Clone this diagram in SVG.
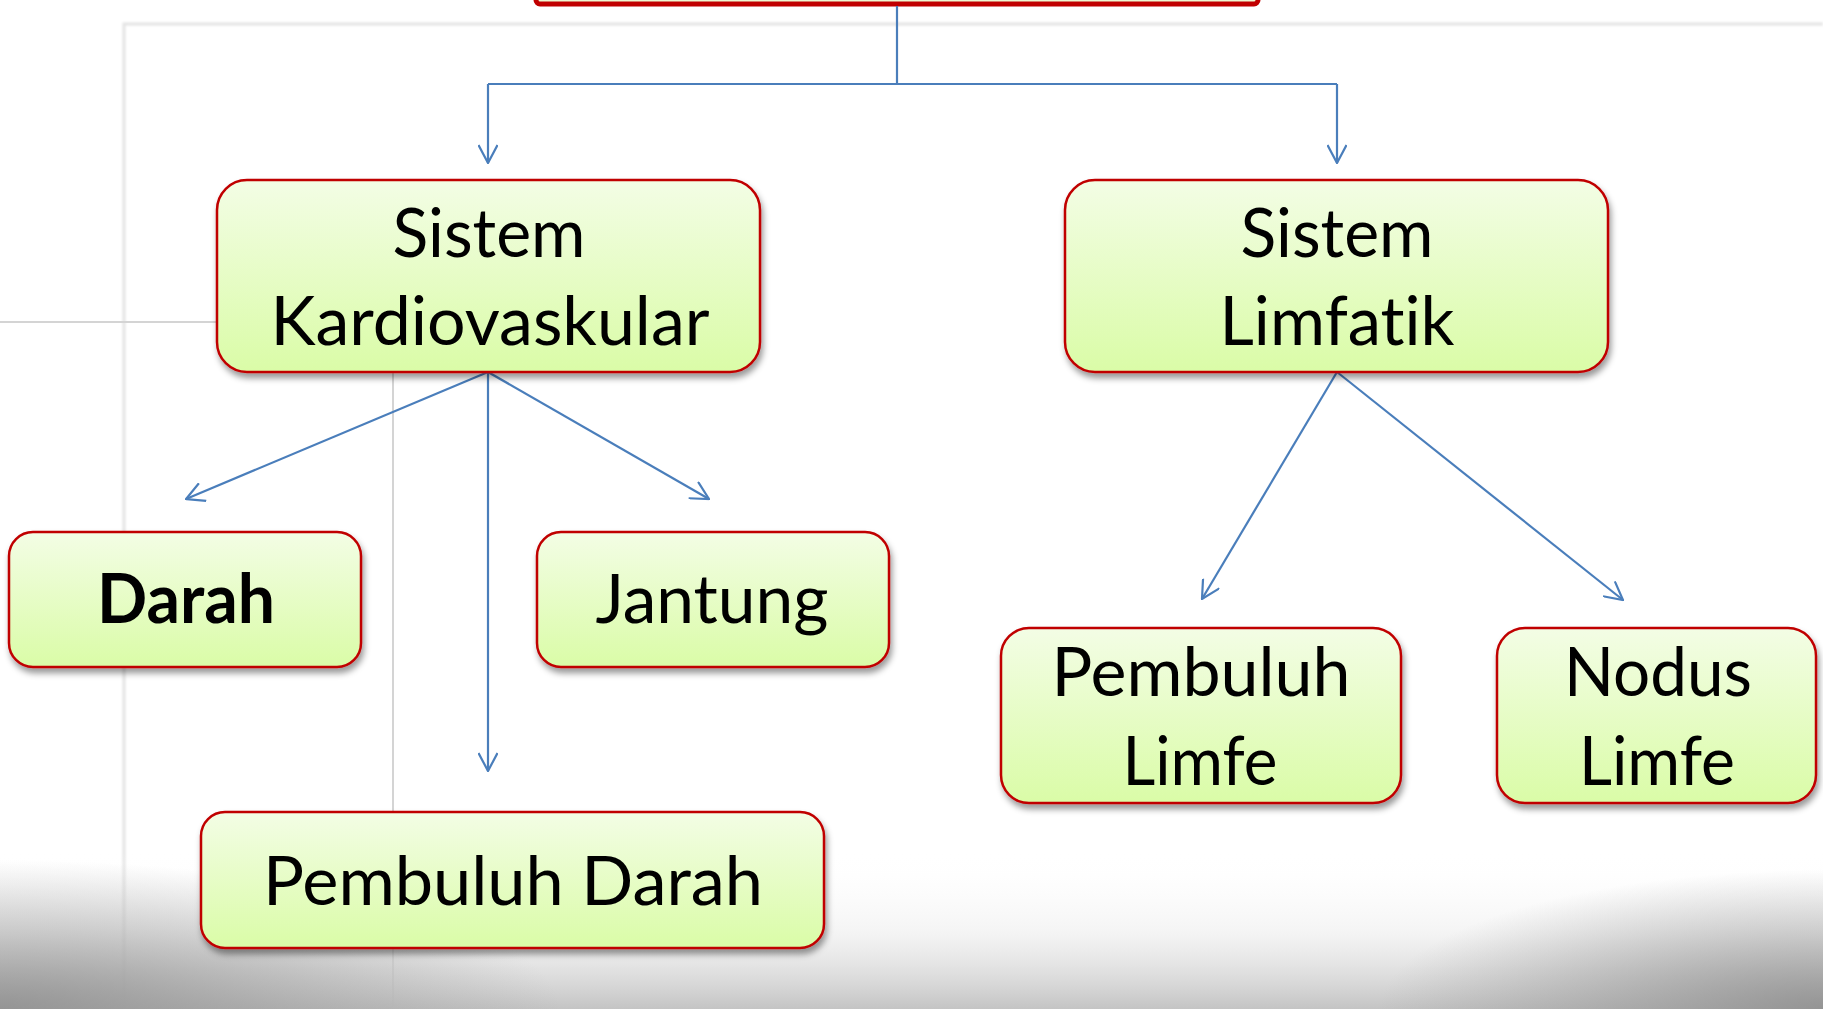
<svg xmlns="http://www.w3.org/2000/svg" width="1823" height="1009" viewBox="0 0 1823 1009">
<defs>
<linearGradient id="boxFill" x1="0" y1="0" x2="0" y2="1">
<stop offset="0" stop-color="#f3fde5"/>
<stop offset="1" stop-color="#dafca7"/>
</linearGradient>
<linearGradient id="bottomFade" x1="0" y1="0" x2="0" y2="1">
<stop offset="0" stop-color="#ffffff" stop-opacity="0"/>
<stop offset="0.5" stop-color="#ebebeb" stop-opacity="0.5"/>
<stop offset="1" stop-color="#c4c4c4" stop-opacity="1"/>
</linearGradient>
<radialGradient id="cornerL" cx="0" cy="1" r="1">
<stop offset="0" stop-color="#8c8c8c" stop-opacity="0.85"/>
<stop offset="1" stop-color="#8c8c8c" stop-opacity="0"/>
</radialGradient>
<radialGradient id="cornerR" cx="1" cy="1" r="1">
<stop offset="0" stop-color="#8c8c8c" stop-opacity="0.85"/>
<stop offset="1" stop-color="#8c8c8c" stop-opacity="0"/>
</radialGradient>
<filter id="shadow" x="-10%" y="-10%" width="120%" height="130%">
<feDropShadow dx="2" dy="5" stdDeviation="3" flood-color="#000" flood-opacity="0.4"/>
</filter>
<filter id="soft" x="-5%" y="-5%" width="110%" height="110%">
<feGaussianBlur stdDeviation="0.8"/>
</filter>
<marker id="arrow" viewBox="0 0 20 20" refX="19" refY="10" markerWidth="20" markerHeight="20" markerUnits="userSpaceOnUse" orient="auto">
<path d="M1,0.5 L19,10 L1,19.5" fill="none" stroke="#4a7ebb" stroke-width="2.2"/>
</marker>
<style>
.box{fill:url(#boxFill);stroke:#c00000;stroke-width:2.5;filter:url(#shadow)}
.lbl{font-family:Lato,"Open Sans","Liberation Sans",sans-serif;font-size:68px;fill:#000;text-anchor:middle;font-variant-ligatures:none;font-feature-settings:"liga" 0,"clig" 0}
.bold{font-weight:bold}
.con{fill:none;stroke:#4a7ebb;stroke-width:2.2}
.frame{stroke:#e4e4e4;stroke-width:3;fill:none}
.grid{stroke:#d4d4d4;stroke-width:2;fill:none}
</style>
</defs>
<rect width="1823" height="1009" fill="#ffffff"/>
<g id="background">
<path class="frame" d="M124,1009 V24 H1823" filter="url(#soft)"/>
<path class="grid" d="M0,322 H393 V1009"/>
<rect x="0" y="850" width="1823" height="159" fill="url(#bottomFade)"/>
<rect x="0" y="860" width="560" height="149" fill="url(#cornerL)"/>
<rect x="1380" y="870" width="443" height="139" fill="url(#cornerR)"/>
</g>
<g id="top-node">
<rect x="536" y="-40" width="722" height="44" rx="4" fill="#eef7d2" stroke="#c00000" stroke-width="5"/>
</g>
<g id="connectors">
<path class="con" d="M897,6 V84" stroke-width="1.6"/>
<path class="con" d="M488,84 H1337"/>
<path class="con" d="M488,84 V163" marker-end="url(#arrow)"/>
<path class="con" d="M1337,84 V163" marker-end="url(#arrow)"/>
<path class="con" d="M488,372 L186,499" marker-end="url(#arrow)"/>
<path class="con" d="M488,372 L709,499" marker-end="url(#arrow)"/>
<path class="con" d="M488,372 V771" marker-end="url(#arrow)"/>
<path class="con" d="M1337,372 L1202,599" marker-end="url(#arrow)"/>
<path class="con" d="M1337,372 L1623,600" marker-end="url(#arrow)"/>
</g>
<g id="node-kardiovaskular">
<rect class="box" x="217" y="180" width="543" height="192" rx="30"/>
<text class="lbl" x="489" y="257" textLength="193" lengthAdjust="spacingAndGlyphs">Sistem</text>
<text class="lbl" x="490" y="345" textLength="439" lengthAdjust="spacingAndGlyphs">Kardiovaskular</text>
</g>
<g id="node-limfatik">
<rect class="box" x="1065" y="180" width="543" height="192" rx="30"/>
<text class="lbl" x="1337" y="257" textLength="193" lengthAdjust="spacingAndGlyphs">Sistem</text>
<text class="lbl" x="1337" y="345" textLength="235" lengthAdjust="spacingAndGlyphs">Limfatik</text>
</g>
<g id="node-darah">
<rect class="box" x="9" y="532" width="352" height="135" rx="24"/>
<text class="lbl bold" x="186" y="623" textLength="178" lengthAdjust="spacingAndGlyphs">Darah</text>
</g>
<g id="node-jantung">
<rect class="box" x="537" y="532" width="352" height="135" rx="24"/>
<text class="lbl" x="712" y="623" textLength="233" lengthAdjust="spacingAndGlyphs">Jantung</text>
</g>
<g id="node-pembuluh-darah">
<rect class="box" x="201" y="812" width="623" height="136" rx="24"/>
<text class="lbl" x="513" y="905" textLength="500" lengthAdjust="spacingAndGlyphs">Pembuluh Darah</text>
</g>
<g id="node-pembuluh-limfe">
<rect class="box" x="1001" y="628" width="400" height="175" rx="28"/>
<text class="lbl" x="1201" y="696" textLength="299" lengthAdjust="spacingAndGlyphs">Pembuluh</text>
<text class="lbl" x="1200" y="785" textLength="155" lengthAdjust="spacingAndGlyphs">Limfe</text>
</g>
<g id="node-nodus-limfe">
<rect class="box" x="1497" y="628" width="319" height="175" rx="28"/>
<text class="lbl" x="1658" y="696" textLength="188" lengthAdjust="spacingAndGlyphs">Nodus</text>
<text class="lbl" x="1657" y="785" textLength="156" lengthAdjust="spacingAndGlyphs">Limfe</text>
</g>
</svg>
